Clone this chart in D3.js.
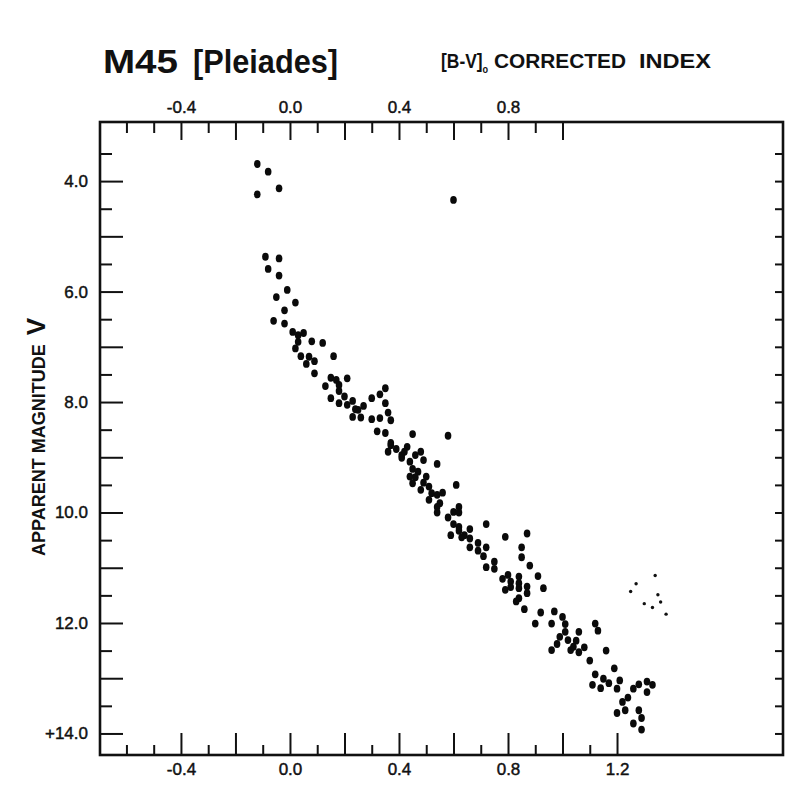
<!DOCTYPE html>
<html>
<head>
<meta charset="utf-8">
<script src="https://cdn.jsdelivr.net/npm/d3@7"></script>
<style>
  html, body { margin: 0; padding: 0; background: #fff; }
  svg { display: block; }
</style>
</head>
<body>
<script>
// ---- data (B-V colour index, apparent magnitude V) ----
const starBV = [
  -0.12, -0.08, -0.12, -0.04, 0.60,
  -0.09, -0.04, -0.08, -0.04, -0.01, -0.05, 0.02, -0.02, -0.06, -0.02,
  0.01, 0.03, 0.05, 0.03, 0.08, 0.02, 0.04, 0.07, 0.06, 0.09, 0.09,
  0.12, 0.16, 0.15, 0.17, 0.21, 0.13, 0.18, 0.18, 0.20, 0.15, 0.18, 0.21,
  0.23, 0.24, 0.25, 0.27, 0.23, 0.26, 0.30, 0.33, 0.35, 0.35, 0.36, 0.37,
  0.30, 0.33, 0.32, 0.35, 0.45, 0.58, 0.37, 0.37, 0.36, 0.39, 0.41, 0.43,
  0.42, 0.41, 0.44, 0.46, 0.48, 0.49, 0.54, 0.45, 0.47, 0.46, 0.44, 0.50,
  0.45, 0.49, 0.51, 0.48, 0.61, 0.52, 0.54, 0.56, 0.51, 0.55, 0.54, 0.54,
  0.60, 0.62, 0.62, 0.58,
  0.72, 0.60, 0.62, 0.59, 0.62, 0.66, 0.64, 0.63, 0.66, 0.66, 0.69, 0.69,
  0.72, 0.71, 0.75, 0.72, 0.75, 0.79, 0.87, 0.85, 0.85, 0.88, 0.91, 0.80,
  0.78, 0.81, 0.84, 0.84, 0.87, 0.79, 0.81, 0.84, 0.87, 0.84, 0.83, 0.93,
  0.86, 0.92, 0.90, 0.97, 1.00, 0.96, 1.01, 1.01, 0.99, 1.02, 1.06, 1.05,
  1.12, 1.13, 0.98, 0.96, 1.03, 1.04, 1.06, 1.08, 1.10, 1.16,
  1.19, 1.12, 1.15, 1.11, 1.14, 1.17, 1.21, 1.20, 1.26, 1.28, 1.31, 1.33,
  1.31, 1.24, 1.22, 1.20, 1.23, 1.28, 1.29, 1.26, 1.29
];
const starV = [
  3.69, 3.83, 4.24, 4.13, 4.34,
  5.37, 5.40, 5.59, 5.71, 5.97, 6.10, 6.20, 6.34, 6.53, 6.58,
  6.73, 6.79, 6.75, 6.91, 6.90, 7.03, 7.17, 7.18, 7.31, 7.26, 7.48,
  6.93, 7.17, 7.56, 7.60, 7.57, 7.71, 7.69, 7.80, 7.90, 7.93, 8.02, 8.05,
  7.98, 8.13, 8.14, 8.07, 8.27, 8.28, 7.93, 7.86, 7.75, 8.02, 8.19, 8.33,
  8.31, 8.29, 8.53, 8.56, 8.58, 8.61, 8.74, 8.78, 8.90, 8.85, 8.96, 8.81,
  8.90, 9.01, 9.08, 8.96, 8.90, 9.05, 9.12, 9.21, 9.26, 9.36, 9.35, 9.35,
  9.47, 9.46, 9.53, 9.59, 9.50, 9.65, 9.68, 9.64, 9.77, 9.83, 9.90, 10.00,
  9.99, 9.90, 10.00, 10.09,
  10.21, 10.21, 10.26, 10.41, 10.33, 10.30, 10.41, 10.45, 10.47, 10.63, 10.55, 10.69,
  10.63, 10.79, 10.89, 10.99, 11.02, 10.44, 10.38, 10.63, 10.81, 10.96, 11.15, 11.13,
  11.20, 11.25, 11.16, 11.28, 11.34, 11.40, 11.35, 11.37, 11.46, 11.55, 11.61, 11.37,
  11.75, 11.81, 12.01, 11.79, 11.89, 12.01, 12.02, 12.16, 12.25, 12.31, 12.16, 12.32,
  12.01, 12.14, 12.38, 12.49, 12.49, 12.43, 12.53, 12.44, 12.68, 12.50,
  12.82, 12.93, 13.01, 13.12, 13.18, 13.09, 13.04, 13.19, 13.19, 13.11, 13.06, 13.12,
  13.25, 13.35, 13.43, 13.63, 13.58, 13.58, 13.72, 13.82, 13.93
];
// faint small points (other group)
const faintBV = [1.25, 1.27, 1.34, 1.35, 1.30, 1.33, 1.36, 1.38];
const faintV  = [11.43, 11.29, 11.14, 11.49, 11.65, 11.72, 11.62, 11.84];

// axis ticks
const bottomMajor = [-0.4, -0.2, 0.0, 0.2, 0.4, 0.6, 0.8, 1.0, 1.2];
const bottomMinor = [-0.6, -0.5, -0.3, -0.1, 0.1, 0.3, 0.5, 0.7, 0.9, 1.1];
const bottomLabels = [-0.4, 0.0, 0.4, 0.8, 1.2];
const topMajor = [-0.4, -0.2, 0.0, 0.2, 0.4, 0.6, 0.8, 1.0];
const topMinor = [-0.6, -0.5, -0.3, -0.1, 0.1, 0.3, 0.5, 0.7, 0.9];
const topLabels = [-0.4, 0.0, 0.4, 0.8];
const leftMajor = [4, 5, 6, 7, 8, 9, 10, 11, 12, 13, 14];
const leftMinor = [3.5, 4.5, 5.5, 6.5, 7.5, 8.5, 9.5, 10.5, 11.5, 12.5, 13.5];
const leftLabels = [4, 6, 8, 10, 12, 14];
const rightTicks = [3.5, 4, 4.5, 5, 5.5, 6, 6.5, 7, 7.5, 8, 8.5, 9, 9.5, 10, 10.5, 11, 11.5, 12, 12.5, 13, 13.5, 14];

const W = 800, H = 797;
const svg = d3.select("body").append("svg").attr("width", W).attr("height", H);

const x = d3.scaleLinear().domain([-0.697, 1.809]).range([100, 783]);
const y = d3.scaleLinear().domain([2.93, 14.39]).range([122, 755]);

const FONT = '"Liberation Sans", Arial, Helvetica, sans-serif';

function styleAxis(g, fs) {
  g.select(".domain").remove();
  g.selectAll(".tick line").attr("stroke", "#111").attr("stroke-width", 2);
  g.selectAll(".tick text").attr("font-size", fs).attr("font-family", FONT)
    .attr("fill", "#111").attr("stroke", "#111").attr("stroke-width", 0.45);
}

const fmtX = v => {
  const s = Math.abs(v).toFixed(1);
  return v < 0 ? "-" + s : s;
};

// bottom axis (ticks pointing up)
const bMaj = svg.append("g").attr("transform", `translate(0,${y.range()[1]})`)
  .call(d3.axisBottom(x).tickValues(bottomMajor).tickSizeInner(-22).tickSizeOuter(0).tickPadding(8)
        .tickFormat(v => bottomLabels.some(l => Math.abs(l - v) < 1e-9) ? fmtX(v) : ""));
styleAxis(bMaj, 17);
const bMin = svg.append("g").attr("transform", `translate(0,${y.range()[1]})`)
  .call(d3.axisBottom(x).tickValues(bottomMinor).tickSizeInner(-10).tickSizeOuter(0).tickFormat(""));
styleAxis(bMin, 17);

// top axis (ticks pointing down)
const tMaj = svg.append("g").attr("transform", `translate(0,${y.range()[0]})`)
  .call(d3.axisTop(x).tickValues(topMajor).tickSizeInner(-18).tickSizeOuter(0).tickPadding(9)
        .tickFormat(v => topLabels.some(l => Math.abs(l - v) < 1e-9) ? fmtX(v) : ""));
styleAxis(tMaj, 17);
const tMin = svg.append("g").attr("transform", `translate(0,${y.range()[0]})`)
  .call(d3.axisTop(x).tickValues(topMinor).tickSizeInner(-11).tickSizeOuter(0).tickFormat(""));
styleAxis(tMin, 17);

// left axis (ticks pointing right)
const lMaj = svg.append("g").attr("transform", `translate(${x.range()[0]},0)`)
  .call(d3.axisLeft(y).tickValues(leftMajor).tickSizeInner(-23).tickSizeOuter(0).tickPadding(12)
        .tickFormat(v => leftLabels.includes(v) ? (v === 14 ? "+14.0" : v.toFixed(1)) : ""));
styleAxis(lMaj, 17);
const lMin = svg.append("g").attr("transform", `translate(${x.range()[0]},0)`)
  .call(d3.axisLeft(y).tickValues(leftMinor).tickSizeInner(-12).tickSizeOuter(0).tickFormat(""));
styleAxis(lMin, 17);

// right axis (small ticks pointing left)
const rAx = svg.append("g").attr("transform", `translate(${x.range()[1]},0)`)
  .call(d3.axisRight(y).tickValues(rightTicks).tickSizeInner(-8).tickSizeOuter(0).tickFormat(""));
styleAxis(rAx, 17);

// frame
svg.append("rect")
  .attr("x", x.range()[0]).attr("y", y.range()[0])
  .attr("width", x.range()[1] - x.range()[0])
  .attr("height", y.range()[1] - y.range()[0])
  .attr("fill", "none").attr("stroke", "#111").attr("stroke-width", 2.6);

// stars
const stars = starBV.map((b, i) => ({ b, v: starV[i] }));
svg.append("g").selectAll("ellipse").data(stars).join("ellipse")
  .attr("cx", d => x(d.b)).attr("cy", d => y(d.v))
  .attr("rx", 3.3).attr("ry", 3.9).attr("fill", "#0a0a0a");

const faint = faintBV.map((b, i) => ({ b, v: faintV[i] }));
svg.append("g").selectAll("circle").data(faint).join("circle")
  .attr("cx", d => x(d.b)).attr("cy", d => y(d.v))
  .attr("r", 1.7).attr("fill", "#111");

// titles
svg.append("text").attr("x", 103).attr("y", 73)
  .attr("font-family", FONT).attr("font-weight", "bold").attr("font-size", 33)
  .attr("textLength", 75).attr("lengthAdjust", "spacingAndGlyphs").attr("fill", "#111")
  .text("M45");
svg.append("text").attr("x", 193).attr("y", 73)
  .attr("font-family", FONT).attr("font-weight", "bold").attr("font-size", 33)
  .attr("textLength", 145).attr("lengthAdjust", "spacingAndGlyphs").attr("fill", "#111")
  .text("[Pleiades]");

const bv = svg.append("text").attr("transform", "translate(441,68) scale(0.83,1)")
  .attr("font-family", FONT).attr("font-weight", "bold").attr("font-size", 21).attr("fill", "#111");
bv.append("tspan").text("[B-V]");
bv.append("tspan").attr("font-size", 11).attr("dy", 5).text("o");

svg.append("text").attr("x", 494).attr("y", 68)
  .attr("font-family", FONT).attr("font-weight", "bold").attr("font-size", 21)
  .attr("textLength", 132).attr("lengthAdjust", "spacingAndGlyphs").attr("fill", "#111")
  .text("CORRECTED");
svg.append("text").attr("x", 639).attr("y", 68)
  .attr("font-family", FONT).attr("font-weight", "bold").attr("font-size", 21)
  .attr("textLength", 72).attr("lengthAdjust", "spacingAndGlyphs").attr("fill", "#111")
  .text("INDEX");

// y-axis title
const yt = svg.append("text")
  .attr("transform", "translate(45,556) rotate(-90)")
  .attr("font-family", FONT).attr("font-weight", "bold").attr("fill", "#111");
yt.append("tspan").attr("font-size", 18).text("APPARENT MAGNITUDE");
yt.append("tspan").attr("font-size", 26).attr("dx", 9).text("V");
</script>
</body>
</html>
